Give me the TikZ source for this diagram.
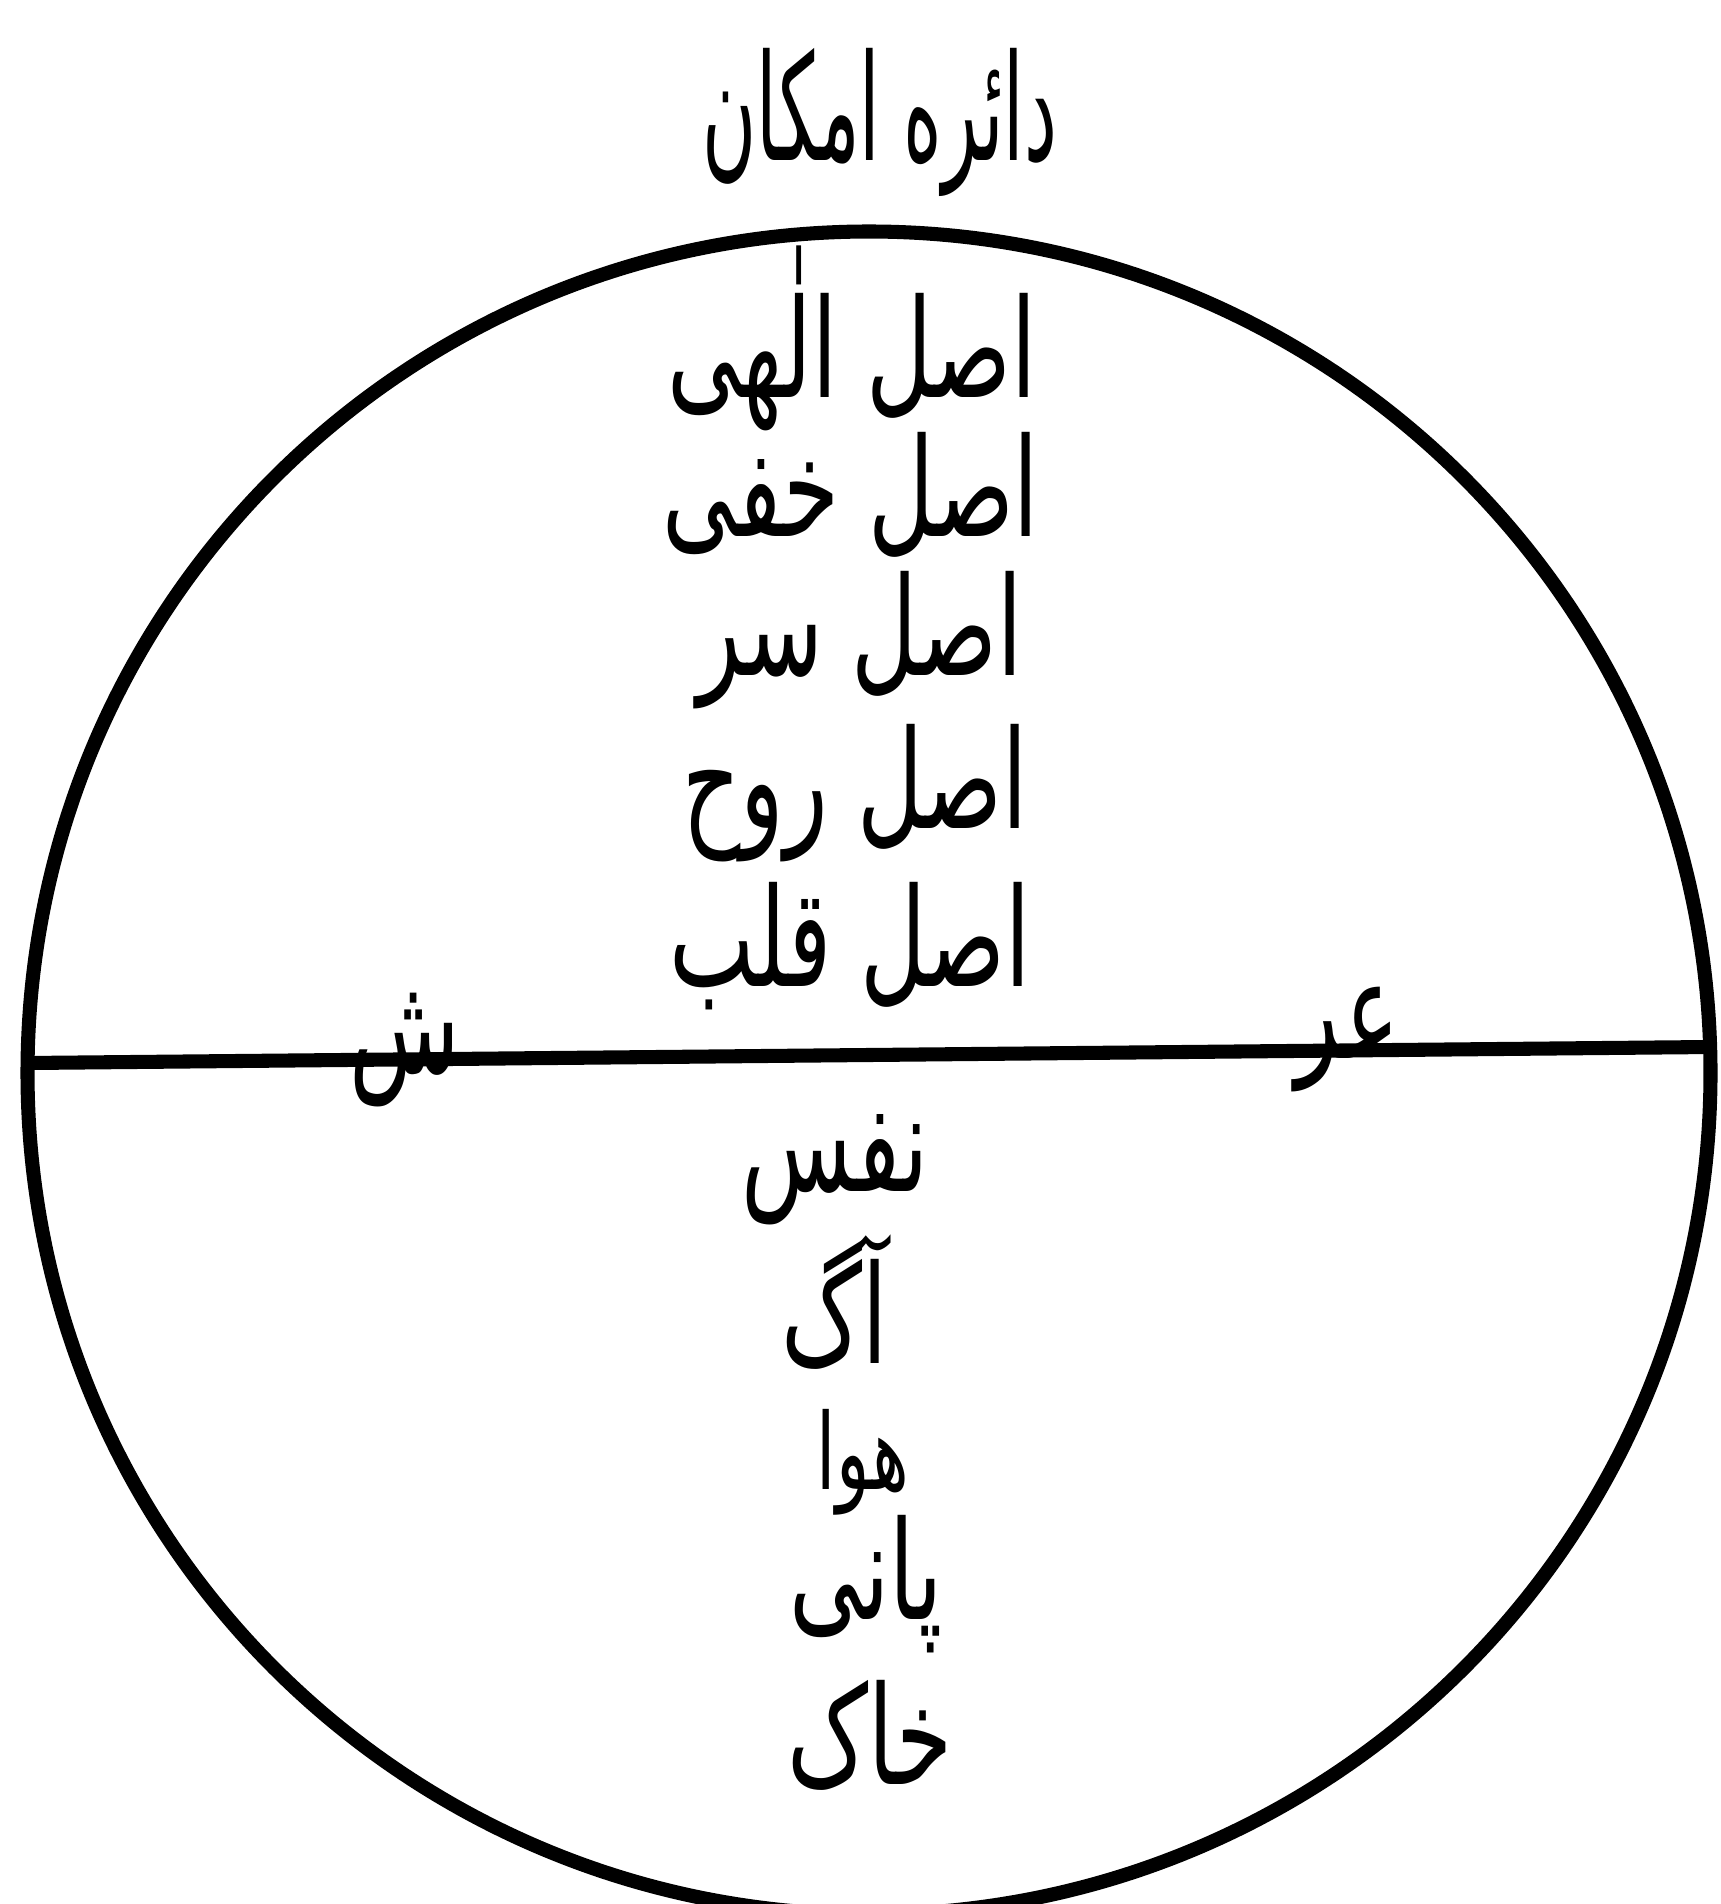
\documentclass[tikz,border=0pt]{standalone}
\usepackage{fontspec}
\newfontfamily\urdufont[Script=Arabic]{DejaVu Sans}
\TeXXeTstate=1
\newcommand{\ur}[1]{\beginR #1\endR}

\begin{document}
\begin{tikzpicture}[
    x=0.01cm, y=-0.01cm,
    every node/.style={inner sep=0pt},
    word/.style={font=\urdufont\fontsize{39}{43}\selectfont, xscale=0.66, transform shape},
    small/.style={font=\urdufont\fontsize{30}{34}\selectfont, xscale=0.66, transform shape},
    head/.style={font=\urdufont\fontsize{42}{46}\selectfont, xscale=0.5, transform shape},
    rim/.style={line width=4pt}
]
    \useasboundingbox (0,0) rectangle (1720,1904);

    % the circle and its diameter
    \node[draw, rim, circle, minimum size=16.82cm] (daira) at (869,1073) {};
    \coordinate (w) at (28,1063);
    \coordinate (e) at (1710,1047);
    \draw[rim] (w) -- (e);

    % title
    \node[head] (title) at (880,122) {\ur{دائره امکان}};

    % above the line
    \node[word] (ilahi) at (852,338) {\ur{اصل الٰهی}};
    \node[word] (khafi) at (851,495) {\ur{اصل خفی}};
    \node[word] (sirr)  at (860,640) {\ur{اصل سر}};
    \node[word] (ruh)   at (855,793) {\ur{اصل روح}};
    \node[word] (qalb)  at (850,946) {\ur{اصل قلب}};

    % the split word on the line
    \node[word] (shin) at (405,1050) {\ur{ش}};
    \node[word] (ayn)  at (1347,1040) {\ur{عر}};

    % below the line
    \node[word] (nafs) at (835,1170) {\ur{نفس}};
    \node[word] (aag)  at (835,1302) {\ur{آگ}};
    \node[small] (hawa) at (863,1462) {\ur{هوا}};
    \node[word] (pani) at (866,1584) {\ur{پانی}};
    \node[word] (khak) at (870,1735) {\ur{خاک}};
\end{tikzpicture}
\end{document}
